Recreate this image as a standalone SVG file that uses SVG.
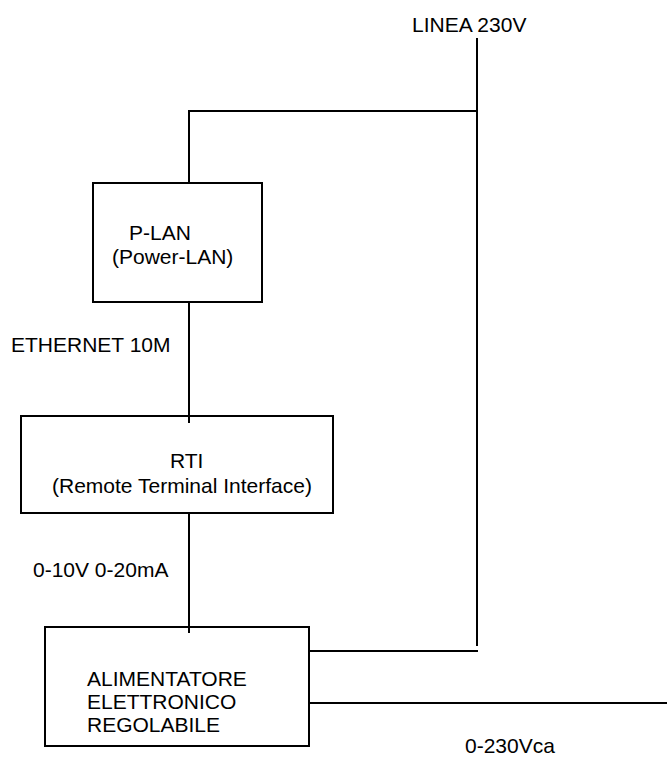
<svg xmlns="http://www.w3.org/2000/svg" width="667" height="758" viewBox="0 0 667 758">
<style>
.box{fill:#fff;stroke:#000;stroke-width:2}
.ln{stroke:#000;stroke-width:2;fill:none}
text{font-family:"Liberation Sans",Arial,Helvetica,sans-serif;font-size:21px;fill:#000}
</style>
<rect width="667" height="758" fill="#fff"/>
<g id="connectors">
<line class="ln" x1="477" y1="38" x2="477" y2="646"/>
<polyline class="ln" points="189,183 189,111 477,111"/>
<line class="ln" x1="189" y1="302" x2="189" y2="423"/>
<line class="ln" x1="189" y1="513" x2="189" y2="633"/>
<line class="ln" x1="309" y1="651" x2="478" y2="651"/>
<line class="ln" x1="309" y1="703" x2="667" y2="703"/>
</g>
<g id="linea"><text x="412" y="32">LINEA 230V</text></g>
<g id="plan">
<rect class="box" x="93" y="183" width="169" height="119"/>
<text x="129" y="240">P-LAN</text>
<text x="112" y="264">(Power-LAN)</text>
</g>
<g id="ethernet"><text x="11" y="352">ETHERNET 10M</text></g>
<g id="rti">
<rect class="box" x="21" y="416" width="312" height="97"/>
<rect x="188" y="416" width="2" height="7" fill="#000"/>
<text x="170" y="468">RTI</text>
<text x="52" y="493">(Remote Terminal Interface)</text>
</g>
<g id="signal"><text x="33" y="577">0-10V 0-20mA</text></g>
<g id="alimentatore">
<rect class="box" x="45" y="627" width="264" height="119"/>
<rect x="188" y="627" width="2" height="6" fill="#000"/>
<text x="87" y="686">ALIMENTATORE</text>
<text x="87" y="709">ELETTRONICO</text>
<text x="87" y="732">REGOLABILE</text>
</g>
<g id="output"><text x="465" y="753">0-230Vca</text></g>
</svg>
